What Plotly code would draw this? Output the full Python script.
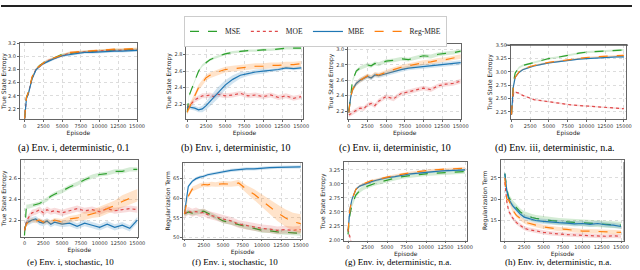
import numpy as np
import plotly.graph_objects as go

EPISODES = [0, 250, 500, 1000, 1500, 2000, 2500, 3000, 3500, 4000, 5000,
            6000, 7000, 8000, 9000, 10000, 11000, 12000, 13000, 14000, 15000]
SERIES = ["MSE", "MOE", "MBE", "Reg-MBE"]
XTICKS = [0, 2500, 5000, 7500, 10000, 12500, 15000]

# (a) Env. i, deterministic, 0.1
A_MSE = [2.05, 2.38, 2.45, 2.68, 2.80, 2.86, 2.90, 2.93, 2.96, 2.98, 3.03, 3.05, 3.06, 3.07, 3.08, 3.09, 3.09, 3.10, 3.10, 3.10, 3.11]
A_MOE = [2.05, 2.37, 2.44, 2.67, 2.80, 2.85, 2.89, 2.93, 2.95, 2.98, 3.02, 3.05, 3.06, 3.07, 3.08, 3.08, 3.09, 3.09, 3.10, 3.10, 3.10]
A_MBE = [2.05, 2.36, 2.43, 2.66, 2.79, 2.85, 2.89, 2.92, 2.94, 2.97, 3.01, 3.03, 3.05, 3.06, 3.06, 3.07, 3.07, 3.08, 3.08, 3.08, 3.09]
A_REG = [2.05, 2.38, 2.45, 2.69, 2.81, 2.86, 2.90, 2.94, 2.96, 2.99, 3.03, 3.06, 3.07, 3.08, 3.09, 3.10, 3.10, 3.11, 3.11, 3.11, 3.12]
A_SPREAD = [0.015, 0.015, 0.02, 0.015]

# (b) Env. i, deterministic, 10
B_MSE = [2.10, 2.30, 2.36, 2.48, 2.60, 2.67, 2.71, 2.74, 2.76, 2.78, 2.81, 2.83, 2.84, 2.85, 2.85, 2.86, 2.86, 2.87, 2.88, 2.88, 2.88]
B_MOE = [2.15, 2.18, 2.20, 2.25, 2.28, 2.30, 2.30, 2.31, 2.29, 2.32, 2.30, 2.31, 2.33, 2.30, 2.31, 2.29, 2.31, 2.28, 2.30, 2.27, 2.29]
B_MBE = [2.15, 2.17, 2.16, 2.15, 2.13, 2.14, 2.18, 2.23, 2.28, 2.33, 2.43, 2.50, 2.55, 2.57, 2.59, 2.60, 2.61, 2.62, 2.64, 2.63, 2.64]
B_REG = [2.10, 2.15, 2.20, 2.32, 2.40, 2.46, 2.52, 2.55, 2.57, 2.59, 2.62, 2.63, 2.64, 2.65, 2.66, 2.66, 2.67, 2.67, 2.68, 2.68, 2.69]
B_MBE_SPREAD = [0.02, 0.03, 0.03, 0.03, 0.03, 0.04, 0.05, 0.06, 0.06, 0.07, 0.06, 0.05, 0.04, 0.03, 0.03, 0.03, 0.02, 0.02, 0.02, 0.02, 0.02]
B_SPREAD = [0.015, 0.03, B_MBE_SPREAD, 0.035]

# (c) Env. ii, deterministic, 10
C_MSE = [2.20, 2.45, 2.60, 2.72, 2.76, 2.78, 2.80, 2.79, 2.82, 2.81, 2.85, 2.86, 2.88, 2.87, 2.90, 2.92, 2.91, 2.94, 2.95, 2.96, 2.98]
C_MOE = [2.15, 2.17, 2.18, 2.21, 2.24, 2.23, 2.28, 2.30, 2.27, 2.33, 2.39, 2.36, 2.43, 2.45, 2.48, 2.50, 2.48, 2.53, 2.55, 2.56, 2.59]
C_MBE = [2.18, 2.38, 2.48, 2.56, 2.60, 2.62, 2.65, 2.63, 2.67, 2.66, 2.69, 2.71, 2.74, 2.76, 2.77, 2.78, 2.79, 2.80, 2.81, 2.82, 2.83]
C_REG = [2.18, 2.38, 2.48, 2.56, 2.60, 2.63, 2.66, 2.64, 2.68, 2.67, 2.71, 2.74, 2.77, 2.79, 2.81, 2.83, 2.84, 2.86, 2.87, 2.89, 2.91]
C_SPREAD = [0.025, 0.03, 0.03, 0.03]

# (d) Env. iii, deterministic, n.a.
D_MSE = [2.20, 2.80, 2.98, 3.08, 3.12, 3.14, 3.16, 3.18, 3.20, 3.21, 3.25, 3.27, 3.30, 3.32, 3.35, 3.37, 3.38, 3.39, 3.40, 3.41, 3.41]
D_MOE = [2.20, 2.58, 2.62, 2.60, 2.56, 2.53, 2.50, 2.48, 2.47, 2.46, 2.43, 2.41, 2.40, 2.38, 2.37, 2.36, 2.35, 2.34, 2.33, 2.33, 2.31]
D_MBE = [2.20, 2.72, 2.90, 2.99, 3.04, 3.07, 3.09, 3.11, 3.12, 3.14, 3.17, 3.19, 3.21, 3.22, 3.24, 3.25, 3.26, 3.26, 3.27, 3.28, 3.28]
D_REG = [2.20, 2.72, 2.90, 3.00, 3.05, 3.08, 3.10, 3.12, 3.14, 3.15, 3.18, 3.20, 3.22, 3.24, 3.26, 3.27, 3.28, 3.29, 3.30, 3.30, 3.31]
D_SPREAD = [0.02, 0.015, 0.015, 0.015]

# (e) Env. i, stochastic, 10
E_MSE = [2.05, 2.33, 2.33, 2.34, 2.35, 2.36, 2.38, 2.40, 2.43, 2.45, 2.48, 2.52, 2.55, 2.59, 2.62, 2.64, 2.65, 2.67, 2.67, 2.69, 2.69]
E_MOE = [2.10, 2.18, 2.22, 2.27, 2.28, 2.30, 2.27, 2.30, 2.28, 2.29, 2.27, 2.29, 2.31, 2.29, 2.30, 2.28, 2.31, 2.29, 2.30, 2.31, 2.30]
E_MBE = [2.10, 2.17, 2.18, 2.20, 2.21, 2.18, 2.17, 2.19, 2.16, 2.18, 2.16, 2.17, 2.14, 2.17, 2.15, 2.13, 2.16, 2.13, 2.15, 2.12, 2.20]
E_REG = [2.10, 2.16, 2.18, 2.20, 2.19, 2.20, 2.18, 2.19, 2.18, 2.20, 2.18, 2.21, 2.22, 2.24, 2.26, 2.28, 2.31, 2.34, 2.38, 2.41, 2.44]
E_REG_SPREAD = [0.02, 0.02, 0.02, 0.02, 0.02, 0.02, 0.02, 0.02, 0.02, 0.02, 0.03, 0.03, 0.03, 0.04, 0.04, 0.05, 0.05, 0.05, 0.06, 0.06, 0.06]
E_SPREAD = [0.02, 0.03, 0.03, E_REG_SPREAD]

# (f) Env. i, stochastic, 10 (regularization term)
F_MSE = [56.0, 56.3, 56.5, 56.2, 56.5, 56.6, 56.7, 56.2, 55.6, 55.2, 54.2, 53.8, 53.2, 52.7, 52.3, 51.8, 51.7, 51.4, 51.3, 51.1, 51.0]
F_MOE = [56.0, 56.5, 56.8, 56.3, 56.6, 56.2, 56.4, 55.8, 55.6, 55.3, 54.7, 54.2, 53.4, 53.0, 52.6, 52.3, 52.1, 51.8, 52.0, 51.8, 52.0]
F_MBE = [56.0, 60.0, 63.0, 64.3, 65.0, 65.4, 65.6, 66.0, 66.2, 66.4, 66.8, 67.1, 67.3, 67.5, 67.5, 67.7, 67.8, 67.9, 67.9, 68.0, 68.0]
F_REG = [56.0, 58.5, 60.5, 62.3, 62.8, 63.2, 63.5, 63.4, 63.6, 63.5, 63.7, 63.6, 63.9, 62.3, 61.0, 59.3, 57.8, 56.3, 55.0, 54.0, 53.5]
F_REG_SPREAD = [0.5, 0.6, 0.6, 0.6, 0.6, 0.6, 0.6, 0.6, 0.6, 0.6, 0.7, 0.7, 0.8, 1.0, 1.3, 1.6, 1.9, 2.1, 2.2, 2.3, 2.4]
F_SPREAD = [0.6, 1.0, 0.4, F_REG_SPREAD]

# (g) Env. iv, deterministic, n.a.
G_MSE = [2.10, 2.45, 2.62, 2.80, 2.88, 2.93, 2.96, 2.99, 3.01, 3.03, 3.07, 3.10, 3.13, 3.15, 3.17, 3.18, 3.19, 3.20, 3.21, 3.21, 3.22]
G_MOE = [2.20, 2.05, 1.90, 1.80, 1.78, 1.77, 1.76, 1.76, 1.75, 1.75, 1.74, 1.74, 1.73, 1.73, 1.72, 1.72, 1.72, 1.71, 1.71, 1.71, 1.70]
G_MBE = [2.15, 2.55, 2.72, 2.90, 2.96, 2.99, 3.02, 3.04, 3.06, 3.08, 3.11, 3.13, 3.16, 3.18, 3.19, 3.21, 3.22, 3.23, 3.24, 3.25, 3.25]
G_REG = [2.15, 2.55, 2.72, 2.90, 2.97, 3.00, 3.04, 3.06, 3.07, 3.09, 3.12, 3.15, 3.18, 3.20, 3.22, 3.24, 3.25, 3.26, 3.27, 3.28, 3.28]
G_SPREAD = [0.04, 0.03, 0.02, 0.02]

# (h) Env. iv, deterministic, n.a. (regularization term)
H_MSE = [26.0, 22.5, 20.5, 19.0, 18.0, 17.0, 16.4, 16.0, 15.7, 15.5, 15.2, 15.0, 14.8, 14.7, 14.5, 14.4, 14.3, 14.2, 14.1, 14.0, 13.9]
H_MOE = [24.0, 19.5, 17.2, 15.6, 14.5, 13.8, 13.2, 12.9, 12.7, 12.5, 12.2, 12.0, 11.8, 11.7, 11.6, 11.5, 11.4, 11.4, 11.3, 11.4, 11.3]
H_MBE = [26.0, 22.0, 20.0, 18.5, 17.5, 16.5, 15.8, 15.5, 15.2, 15.0, 14.8, 14.6, 14.5, 14.4, 14.2, 14.3, 14.1, 14.3, 14.0, 13.9, 13.6]
H_REG = [25.0, 20.0, 19.8, 17.5, 16.2, 15.5, 14.8, 14.4, 14.1, 13.9, 13.5, 13.2, 13.0, 12.9, 12.7, 12.5, 12.5, 12.4, 12.3, 12.2, 12.2]
H_SPREAD = [0.8, 0.5, 0.6, 0.5]

CAPTIONS = ["(a) Env. i, deterministic, 0.1", "(b) Env. i, deterministic, 10",
            "(c) Env. ii, deterministic, 10", "(d) Env. iii, deterministic, n.a.",
            "(e) Env. i, stochastic, 10", "(f) Env. i, stochastic, 10",
            "(g) Env. iv, deterministic, n.a.", "(h) Env. iv, deterministic, n.a."]
YTITLES = ["True State Entropy"] * 5 + ["Regularization Term", "True State Entropy", "Regularization Term"]
YTICKS = [[2.2, 2.4, 2.6, 2.8, 3.0, 3.2], [2.2, 2.4, 2.6, 2.8], [2.2, 2.4, 2.6, 2.8, 3.0],
          [2.25, 2.50, 2.75, 3.00, 3.25, 3.50], [2.2, 2.4, 2.6], [50, 55, 60, 65],
          [2.00, 2.25, 2.50, 2.75, 3.00, 3.25], [15, 20, 25]]
YFMT = [".1f", ".1f", ".1f", ".2f", ".1f", "d", ".2f", "d"]

PANEL_DATA = [
    ([A_MSE, A_MOE, A_MBE, A_REG], A_SPREAD),
    ([B_MSE, B_MOE, B_MBE, B_REG], B_SPREAD),
    ([C_MSE, C_MOE, C_MBE, C_REG], C_SPREAD),
    ([D_MSE, D_MOE, D_MBE, D_REG], D_SPREAD),
    ([E_MSE, E_MOE, E_MBE, E_REG], E_SPREAD),
    ([F_MSE, F_MOE, F_MBE, F_REG], F_SPREAD),
    ([G_MSE, G_MOE, G_MBE, G_REG], G_SPREAD),
    ([H_MSE, H_MOE, H_MBE, H_REG], H_SPREAD),
]

# ---- layout / style ----
W, H = 640, 270
BOXES = [(19, 138, 41, 118), (188, 306, 41, 118), (352, 467, 42, 118), (517, 634, 43, 118),
         (20, 139, 160, 238), (185, 305, 163, 240), (348, 473, 162, 242), (507, 632, 160, 242)]
XRANGES = [(-650, 15000), (-100, 15200), (-100, 15100), (-100, 15300),
           (-500, 15100), (-130, 15130), (-500, 15300), (-510, 15400)]
YRANGES = [(2.05, 3.2), (2.02, 2.94), (2.1, 3.07), (2.12, 3.5),
           (2.04, 2.78), (49.7, 69.0), (1.99, 3.39), (10.3, 29.2)]
CAP_POS = [(74, 147.5), (238, 147.5), (400, 147.5), (562, 147.5),
           (70, 263.5), (237, 263.5), (403, 263.5), (565, 263.5)]

COLORS = {"MSE": "#2ca02c", "MOE": "#e0494a", "MBE": "#1f77b4", "Reg-MBE": "#ff7f0e"}
FILLS = {"MSE": "rgba(44,160,44,0.2)", "MOE": "rgba(214,39,40,0.16)",
         "MBE": "rgba(31,119,180,0.2)", "Reg-MBE": "rgba(255,127,14,0.22)"}
DASH = {"MSE": "dash", "MOE": "dot", "MBE": "solid", "Reg-MBE": "dash"}

fig = go.Figure()
layout = {}
for i, (means, spreads) in enumerate(PANEL_DATA):
    n = "" if i == 0 else str(i + 1)
    for s, m, sp in zip(SERIES, means, spreads):
        m = np.array(m, dtype=float)
        sp = np.broadcast_to(np.array(sp, dtype=float), m.shape)
        fig.add_trace(go.Scatter(x=EPISODES, y=m + sp, xaxis="x" + n, yaxis="y" + n,
                                 mode="lines", line=dict(width=0, color=COLORS[s]),
                                 hoverinfo="skip", showlegend=False))
        fig.add_trace(go.Scatter(x=EPISODES, y=m - sp, xaxis="x" + n, yaxis="y" + n,
                                 mode="lines", line=dict(width=0, color=COLORS[s]),
                                 fill="tonexty", fillcolor=FILLS[s],
                                 hoverinfo="skip", showlegend=False))
        fig.add_trace(go.Scatter(x=EPISODES, y=m, xaxis="x" + n, yaxis="y" + n,
                                 mode="lines", name=s,
                                 line=dict(width=1.2, color=COLORS[s], dash=DASH[s]),
                                 showlegend=(i == 0)))
    l, r, t, b = BOXES[i]
    common = dict(showline=True, mirror=True, linecolor="#666", linewidth=0.8,
                  ticks="outside", ticklen=2, tickwidth=0.6, tickcolor="#666",
                  showgrid=True, gridcolor="#dcdcdc", griddash="dot", gridwidth=0.6,
                  zeroline=False, tickfont=dict(size=5, color="#333", family="DejaVu Sans"))
    layout["xaxis" + n] = dict(domain=[l / W, r / W], anchor="y" + n, range=list(XRANGES[i]),
                               tickvals=XTICKS, ticktext=[str(v) for v in XTICKS],
                               title=dict(text="Episode", standoff=2,
                                          font=dict(size=6, color="#222", family="DejaVu Sans")),
                               **common)
    layout["yaxis" + n] = dict(domain=[1 - b / H, 1 - t / H], anchor="x" + n, range=list(YRANGES[i]),
                               tickvals=YTICKS[i], ticktext=[format(v, YFMT[i]) for v in YTICKS[i]],
                               title=dict(text=YTITLES[i], standoff=2,
                                          font=dict(size=6, color="#222", family="DejaVu Sans")),
                               **common)

annotations = []
for i, (cap, (cx, cy)) in enumerate(zip(CAPTIONS, CAP_POS)):
    annotations.append(dict(text=cap, x=cx / W, y=1 - cy / H, xref="paper", yref="paper",
                            xanchor="center", yanchor="middle", showarrow=False,
                            font=dict(size=10 if i < 4 else 9, color="black",
                                      family="Liberation Serif")))

shapes = [
    dict(type="line", xref="paper", yref="paper", x0=0, x1=1, y0=1 - 3 / H, y1=1 - 3 / H,
         line=dict(color="#222", width=2)),
    dict(type="line", xref="paper", yref="paper", x0=512 / W, x1=636 / W, y0=1 - 43 / H, y1=1 - 43 / H,
         line=dict(color="#555", width=1.2)),
    dict(type="line", xref="paper", yref="paper", x0=632 / W, x1=632 / W, y0=1 - 162 / H, y1=1 - 242 / H,
         line=dict(color="#555", width=1.2)),
]

fig.update_layout(
    width=W, height=H, margin=dict(l=0, r=0, t=0, b=0),
    paper_bgcolor="white", plot_bgcolor="white",
    showlegend=True,
    legend=dict(orientation="h", x=319 / W, y=1 - 29 / H, xanchor="center", yanchor="middle",
                font=dict(size=7.5, family="Liberation Serif", color="#222"),
                bordercolor="#cccccc", borderwidth=1, bgcolor="white",
                itemwidth=30, traceorder="normal", tracegroupgap=0),
    annotations=annotations, shapes=shapes,
    **layout,
)

fig.write_html("out.html", config={"displayModeBar": False},
               post_script="document.body.style.margin='0px';")
